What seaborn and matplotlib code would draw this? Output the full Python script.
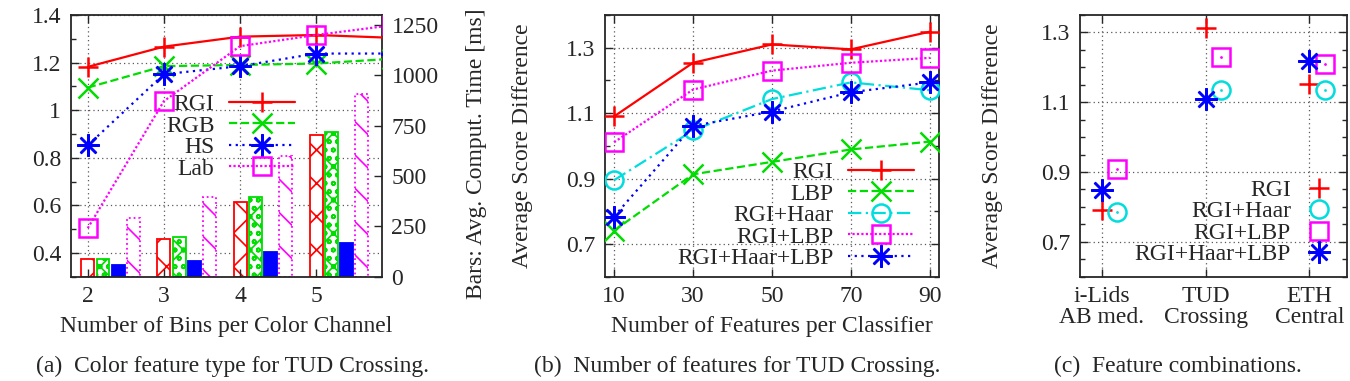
import seaborn as sns
sns.set_style('ticks')
import matplotlib.pyplot as plt
from matplotlib.ticker import MultipleLocator
import numpy as np

plt.rcParams['font.family'] = ['Liberation Serif', 'DejaVu Serif']
plt.rcParams['font.size'] = 17
plt.rcParams['hatch.linewidth'] = 1.2
plt.rcParams['axes.linewidth'] = 1.3

RED, GREEN, BLUE, MAG, CYAN = '#ff0000', '#00dd00', '#0000ff', '#ff00ff', '#00dddd'

# (a) color feature type - lines: avg score difference, bars: comput. time [ms]
bins = [2, 3, 4, 5, 6]   # x=6 runs off the right edge, only the line stub shows
rgi_a = [1.182, 1.267, 1.309, 1.316, 1.304]
rgb_a = [1.095, 1.185, 1.190, 1.196, 1.216]
hs_a = [0.852, 1.151, 1.185, 1.238, 1.238]
lab_a = [0.504, 1.038, 1.269, 1.316, 1.357]

bar_bins = [2, 3, 4, 5]
time_rgi = [86, 189, 371, 704]
time_rgb = [86, 195, 394, 717]
time_hs = [56, 79, 124, 169]
time_lab = [290, 397, 599, 907]

# (b) number of features
n_feat = [10, 30, 50, 70, 90]
rgi_b = [1.090, 1.254, 1.310, 1.295, 1.349]
lbp_b = [0.741, 0.913, 0.951, 0.989, 1.013]
haar_b = [0.895, 1.047, 1.143, 1.194, 1.170]
rgilbp_b = [1.011, 1.172, 1.230, 1.254, 1.269]
all_b = [0.784, 1.061, 1.105, 1.164, 1.194]

# (c) feature combinations per dataset
datasets = ['i-Lids\nAB med.', 'TUD\nCrossing', 'ETH\nCentral']
rgi_c = [0.791, 1.312, 1.151]
haar_c = [0.784, 1.135, 1.135]
lbp_c = [0.909, 1.231, 1.209]
all_c = [0.849, 1.108, 1.218]

ASTER = (8, 2, 0)
grid_kw = dict(color='0.35', linestyle=(0, (1, 2.5)), linewidth=0.9)
FS = 17

fig = plt.figure(figsize=(13.5, 3.81), dpi=100)


def px_axes(l, t, r, b):
    W, H = 1350, 381
    return fig.add_axes([l / W, 1 - b / H, (r - l) / W, (b - t) / H])


def style_ax(ax, grid=True):
    ax.tick_params(which='both', direction='in', top=True, right=True, pad=7)
    ax.tick_params(which='major', length=6, width=1)
    ax.tick_params(which='minor', length=3.5, width=1)
    if grid:
        ax.grid(True, which='major', **grid_kw)
    ax.set_axisbelow(True)
    for sp in ax.spines.values():
        sp.set_visible(True)
        sp.set_linewidth(1.3)


def line(ax, x, y, label, color, marker, ls, ms, mfc=None):
    sns.lineplot(x=x, y=y, ax=ax, label=label, color=color, marker=marker,
                 linestyle=ls, linewidth=1.6, markersize=ms,
                 markeredgewidth=1.8, markeredgecolor=color,
                 markerfacecolor=mfc if mfc else color,
                 sort=False, zorder=3)


def centre_dots(ax, x, y, color):
    sns.lineplot(x=x, y=y, ax=ax, color=color, marker='o', markersize=2,
                 linestyle='none', markeredgewidth=0, sort=False, zorder=4)


# ---------------- (a) ----------------
rect_a = (71, 15, 381.7, 276.7)
xlim_a, ylim_a = (1.78, 5.86), (0.3, 1.4)
yt_a = [0.4, 0.6, 0.8, 1.0, 1.2, 1.4]

# bottom layer: grid only, so the white bars hide it
ax_g = px_axes(*rect_a)
ax_g.set_xlim(*xlim_a)
ax_g.set_ylim(*ylim_a)
ax_g.set_xticks([2, 3, 4, 5])
ax_g.set_yticks(yt_a)
ax_g.grid(True, **grid_kw)
ax_g.tick_params(which='both', length=0, labelbottom=False, labelleft=False)
for sp in ax_g.spines.values():
    sp.set_visible(False)

# middle layer: bars on the right axis
ax_t = px_axes(*rect_a)
ax_t.patch.set_visible(False)
off = [0.0, 0.2, 0.4, 0.6]
w = 0.17
bx = np.array(bar_bins, dtype=float)
ax_t.bar(bx + off[0], time_rgi, w, color='white', edgecolor=RED, hatch='x', lw=1.3)
ax_t.bar(bx + off[1], time_rgb, w, color='white', edgecolor=GREEN, hatch='xoo', lw=1.3)
ax_t.bar(bx + off[2], time_hs, w, color=BLUE, edgecolor=BLUE, lw=1.3)
ax_t.bar(bx + off[3], time_lab, w, color='white', edgecolor=MAG, hatch='\\',
         lw=1.3, linestyle=':')
ax_t.set_xlim(*xlim_a)
ax_t.set_ylim(0, 1300)
ax_t.set_yticks([0, 250, 500, 750, 1000, 1250])
ax_t.yaxis.tick_right()
ax_t.yaxis.set_label_position('right')
ax_t.tick_params(axis='y', direction='in', length=6, width=1, pad=7)
ax_t.tick_params(axis='x', bottom=False, labelbottom=False)
for sp in ax_t.spines.values():
    sp.set_visible(False)
ax_t.set_ylabel('Bars: Avg. Comput. Time [ms]')
ax_t.yaxis.set_label_coords(1.27, 0.47)

# top layer: score lines on the left axis
ax_a = px_axes(*rect_a)
ax_a.patch.set_visible(False)
line(ax_a, bins, rgi_a, 'RGI', RED, '+', '-', 15)
line(ax_a, bins, rgb_a, 'RGB', GREEN, 'x', '--', 14)
line(ax_a, bins, hs_a, 'HS', BLUE, ASTER, (0, (1, 2)), 16)
line(ax_a, bins, lab_a, 'Lab', MAG, 's', (0, (1, 1)), 13, mfc='none')
style_ax(ax_a, grid=False)
ax_a.tick_params(which='both', right=False)
ax_a.set_xlim(*xlim_a)
ax_a.set_ylim(*ylim_a)
ax_a.set_xticks([2, 3, 4, 5])
ax_a.set_yticks(yt_a)
ax_a.set_yticklabels(['0.4', '0.6', '0.8', '1', '1.2', '1.4'])
ax_a.yaxis.set_minor_locator(MultipleLocator(0.1))
ax_a.set_xlabel('Number of Bins per Color Channel', labelpad=6)
ax_a.set_ylabel('')
ax_a.legend(loc='upper right', bbox_to_anchor=(0.72, 0.70), frameon=False,
            markerfirst=False, handlelength=2.8, labelspacing=0.0,
            borderpad=0, borderaxespad=0, handletextpad=0.6, fontsize=FS)

# ---------------- (b) ----------------
ax_b = px_axes(605, 15, 939, 276.7)
line(ax_b, n_feat, rgi_b, 'RGI', RED, '+', '-', 15)
line(ax_b, n_feat, lbp_b, 'LBP', GREEN, 'x', '--', 14)
line(ax_b, n_feat, haar_b, 'RGI+Haar', CYAN, 'o', (0, (6, 2, 1, 2)), 13, mfc='none')
line(ax_b, n_feat, rgilbp_b, 'RGI+LBP', MAG, 's', (0, (1, 1)), 13, mfc='none')
line(ax_b, n_feat, all_b, 'RGI+Haar+LBP', BLUE, ASTER, (0, (1, 2)), 16)
style_ax(ax_b)
ax_b.set_xlim(7.7, 92.3)
ax_b.set_ylim(0.6, 1.4)
ax_b.set_xticks(n_feat)
ax_b.set_yticks([0.7, 0.9, 1.1, 1.3])
ax_b.yaxis.set_minor_locator(MultipleLocator(0.1))
ax_b.set_xlabel('Number of Features per Classifier', labelpad=6)
ax_b.set_ylabel('Average Score Difference')
ax_b.yaxis.set_label_coords(-0.215, 0.5)
ax_b.legend(loc='upper right', bbox_to_anchor=(0.925, 0.44), frameon=False,
            markerfirst=False, handlelength=2.8, labelspacing=0.0,
            borderpad=0, borderaxespad=0, handletextpad=0.6, fontsize=FS)

# ---------------- (c) ----------------
ax_c = px_axes(1080, 15, 1346.7, 276.7)
pos = np.arange(len(datasets))
line(ax_c, pos, rgi_c, 'RGI', RED, '+', 'none', 15)
line(ax_c, pos + 0.15, haar_c, 'RGI+Haar', CYAN, 'o', 'none', 13, mfc='none')
line(ax_c, pos + 0.15, lbp_c, 'RGI+LBP', MAG, 's', 'none', 13, mfc='none')
line(ax_c, pos, all_c, 'RGI+Haar+LBP', BLUE, ASTER, 'none', 16)
centre_dots(ax_c, pos + 0.15, haar_c, CYAN)
centre_dots(ax_c, pos + 0.15, lbp_c, MAG)
style_ax(ax_c)
ax_c.set_xlim(-0.21, 2.36)
ax_c.set_ylim(0.6, 1.35)
ax_c.set_xticks(pos)
ax_c.set_xticklabels(datasets, linespacing=0.95)
ax_c.set_yticks([0.7, 0.9, 1.1, 1.3])
ax_c.yaxis.set_minor_locator(MultipleLocator(0.05))
ax_c.set_ylabel('Average Score Difference')
ax_c.yaxis.set_label_coords(-0.29, 0.5)
h, l = ax_c.get_legend_handles_labels()
ax_c.legend(h[:4], l[:4], loc='upper right', bbox_to_anchor=(0.95, 0.372),
            frameon=False, markerfirst=False, handlelength=1.2, labelspacing=0.0,
            borderpad=0, borderaxespad=0, handletextpad=0.6, fontsize=FS)

# captions
for cx, txt in [(232, '(a)  Color feature type for TUD Crossing.'),
                (737, '(b)  Number of features for TUD Crossing.'),
                (1178, '(c)  Feature combinations.')]:
    fig.text(cx, 381 - 366, txt, ha='center', va='center', fontsize=FS,
             transform=None)

fig.savefig('out.png', dpi=100)
